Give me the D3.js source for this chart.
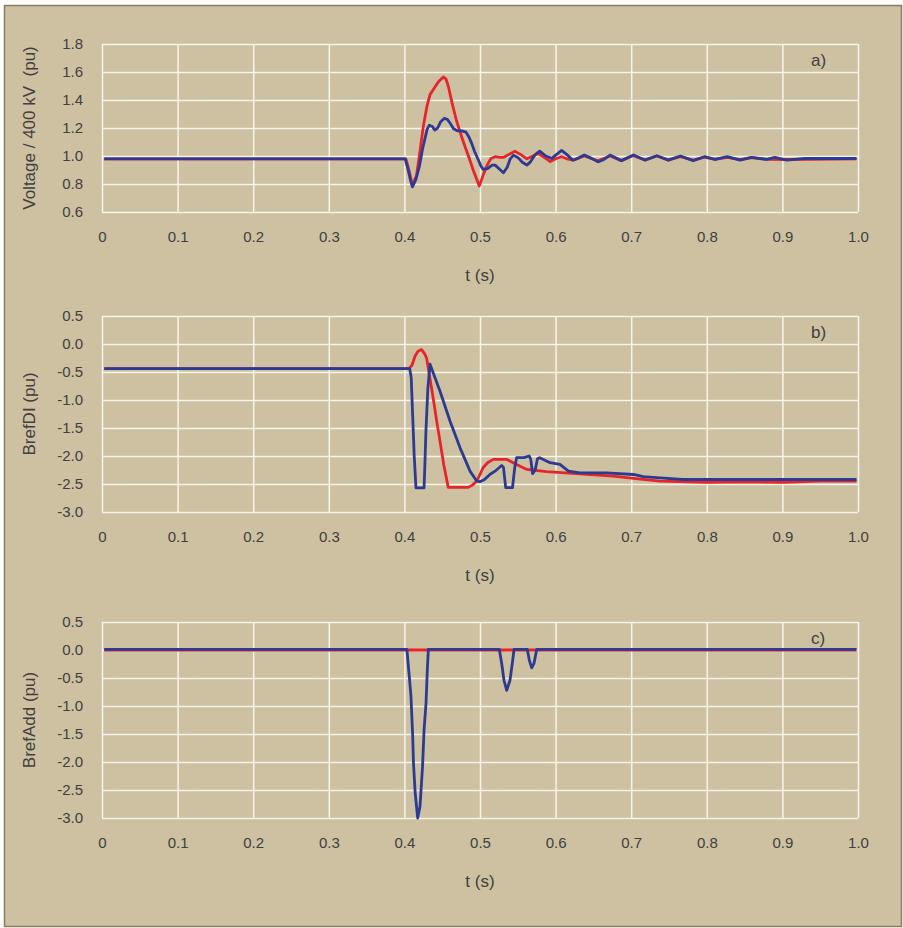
<!DOCTYPE html>
<html>
<head>
<meta charset="utf-8">
<script src="https://cdn.jsdelivr.net/npm/d3@7/dist/d3.min.js"></script>
<style>
    body { margin: 0; background: #fff; }
    text { font-family: "Liberation Sans", Arial, sans-serif; fill: #404040; white-space: pre; }
</style>
</head>
<body>
<div id="chart"></div>
<script>
/* values */
var timeTicks = [0, 0.1, 0.2, 0.3, 0.4, 0.5, 0.6, 0.7, 0.8, 0.9, 1.0];
var voltageTicks = [0.6, 0.8, 1.0, 1.2, 1.4, 1.6, 1.8];
var brefTicks = [-3.0, -2.5, -2.0, -1.5, -1.0, -0.5, 0.0, 0.5];

// a) voltage, pu  [t, value]
var voltageRed = [
    [0.003, 0.98], [0.402, 0.98], [0.406, 0.90], [0.4106, 0.79], [0.416, 0.86], [0.421, 1.05],
    [0.425, 1.21], [0.430, 1.36], [0.434, 1.44], [0.440, 1.49], [0.445, 1.53], [0.4515, 1.565],
    [0.455, 1.55], [0.458, 1.50], [0.463, 1.38], [0.469, 1.25], [0.475, 1.15], [0.480, 1.07],
    [0.486, 0.98], [0.491, 0.90], [0.499, 0.785], [0.504, 0.86], [0.509, 0.93], [0.514, 0.98],
    [0.520, 0.995], [0.526, 0.99], [0.531, 0.99], [0.538, 1.01], [0.546, 1.035], [0.554, 1.01],
    [0.562, 0.98], [0.570, 1.00], [0.577, 1.018], [0.585, 0.99], [0.593, 0.96], [0.600, 0.98],
    [0.608, 0.995], [0.615, 0.98], [0.623, 0.97], [0.638, 1.0], [0.656, 0.965], [0.672, 1.0],
    [0.687, 0.967], [0.703, 1.003], [0.718, 0.971], [0.734, 1.0], [0.749, 0.971], [0.765, 0.995],
    [0.782, 0.97], [0.797, 0.992], [0.811, 0.976], [0.827, 0.99], [0.844, 0.974], [0.859, 0.988],
    [0.879, 0.976], [0.906, 0.975], [0.998, 0.98]
];
var voltageBlue = [
    [0.003, 0.98], [0.401, 0.98], [0.404, 0.92], [0.408, 0.83], [0.4106, 0.78], [0.415, 0.83],
    [0.420, 0.93], [0.424, 1.05], [0.427, 1.12], [0.430, 1.19], [0.433, 1.22], [0.437, 1.21],
    [0.440, 1.185], [0.444, 1.2], [0.448, 1.245], [0.453, 1.27], [0.457, 1.26], [0.461, 1.23],
    [0.465, 1.195], [0.470, 1.18], [0.476, 1.18], [0.4815, 1.17], [0.485, 1.14], [0.489, 1.09],
    [0.493, 1.03], [0.498, 0.97], [0.501, 0.93], [0.504, 0.905], [0.510, 0.91], [0.516, 0.935],
    [0.520, 0.935], [0.526, 0.905], [0.531, 0.88], [0.536, 0.92], [0.540, 0.98], [0.544, 1.005],
    [0.550, 0.99], [0.556, 0.955], [0.562, 0.935], [0.567, 0.96], [0.573, 1.01], [0.579, 1.035],
    [0.587, 1.0], [0.595, 0.983], [0.601, 1.01], [0.608, 1.04], [0.615, 1.01], [0.623, 0.97],
    [0.630, 0.985], [0.638, 1.007], [0.647, 0.985], [0.656, 0.958], [0.664, 0.975], [0.672, 1.007],
    [0.687, 0.967], [0.703, 1.007], [0.718, 0.971], [0.734, 1.002], [0.749, 0.971], [0.765, 1.0],
    [0.782, 0.967], [0.797, 0.995], [0.811, 0.976], [0.827, 0.995], [0.844, 0.971], [0.859, 0.99],
    [0.879, 0.976], [0.890, 0.99], [0.906, 0.971], [0.930, 0.983], [0.998, 0.982]
];

// b) BrefDI, pu
var brefDIRed = [
    [0.003, -0.44], [0.406, -0.44], [0.410, -0.38], [0.414, -0.22], [0.418, -0.13], [0.4228, -0.10],
    [0.427, -0.18], [0.4295, -0.26], [0.433, -0.55], [0.438, -0.96], [0.443, -1.40], [0.447, -1.73],
    [0.452, -2.15], [0.458, -2.56], [0.4845, -2.56], [0.490, -2.52], [0.4956, -2.45], [0.500, -2.33],
    [0.504, -2.21], [0.510, -2.12], [0.5175, -2.06], [0.535, -2.06], [0.5484, -2.15], [0.562, -2.24],
    [0.588, -2.28], [0.632, -2.32], [0.676, -2.36], [0.703, -2.40], [0.738, -2.45], [0.80, -2.47],
    [0.85, -2.46], [0.90, -2.47], [0.95, -2.45], [0.998, -2.45]
];
var brefDIBlue = [
    [0.003, -0.44], [0.407, -0.44], [0.409, -0.6], [0.411, -1.3], [0.413, -2.0], [0.4153, -2.57],
    [0.426, -2.57], [0.427, -2.2], [0.4285, -1.55], [0.431, -0.8], [0.4339, -0.36], [0.447, -0.84],
    [0.4603, -1.375], [0.4735, -1.85], [0.4868, -2.27], [0.4956, -2.446], [0.500, -2.46], [0.506, -2.42],
    [0.513, -2.33], [0.521, -2.26], [0.5286, -2.17], [0.531, -2.2], [0.534, -2.566], [0.543, -2.566],
    [0.546, -2.2], [0.5484, -2.03], [0.558, -2.03], [0.565, -2.0], [0.567, -2.05], [0.5696, -2.315],
    [0.573, -2.25], [0.576, -2.05], [0.579, -2.03], [0.5926, -2.12], [0.6058, -2.15], [0.617, -2.27],
    [0.632, -2.30], [0.667, -2.30], [0.703, -2.33], [0.716, -2.37], [0.738, -2.39], [0.768, -2.42],
    [0.998, -2.42]
];

// c) BrefAdd, pu
var brefAddRed = [[0.003, 0.0], [0.998, 0.0]];
var brefAddBlue = [
    [0.003, 0.01], [0.4033, 0.01], [0.4065, -0.476], [0.4087, -0.83], [0.411, -1.55], [0.412, -2.02],
    [0.4143, -2.56], [0.4176, -3.0], [0.4206, -2.8], [0.424, -2.08], [0.426, -1.43], [0.4286, -0.95],
    [0.4303, -0.36], [0.4317, 0.01], [0.5256, 0.01], [0.5287, -0.24], [0.5317, -0.54], [0.5353, -0.72],
    [0.5397, -0.54], [0.5433, -0.18], [0.545, 0.01], [0.5626, 0.01], [0.5652, -0.18], [0.5684, -0.32],
    [0.5714, -0.24], [0.575, 0.01], [0.998, 0.01]
];

function Chart() {
    var self = this;
    this.width = 903;
    this.height = 928;
    this.svg = d3.select("#chart").append("svg").attr("width", this.width).attr("height", this.height);
    this.x = d3.scaleLinear().domain([0, 1]).range([102, 858]);

    // card background
    this.svg.append("rect")
        .attr("x", 4.5).attr("y", 5.5)
        .attr("width", 897).attr("height", 921)
        .attr("fill", "#cdc1a1")
        .attr("stroke", "#8a7d63")
        .attr("stroke-width", 1.5);

    this.panel = function (top, bottom, ticks, yTitle, tag, red, blue) {
        var g = self.svg.append("g");
        var y = d3.scaleLinear().domain([ticks[0], ticks[ticks.length - 1]]).range([bottom, top]);

        var yAxis = g.append("g")
            .attr("transform", "translate(102,0)")
            .call(d3.axisLeft(y).tickValues(ticks).tickSize(-756).tickPadding(19)
                .tickFormat(function (d) { return d.toFixed(1); }));
        var xAxis = g.append("g")
            .attr("transform", "translate(0," + bottom + ")")
            .call(d3.axisBottom(self.x).tickValues(timeTicks).tickSize(-(bottom - top)).tickPadding(19)
                .tickFormat(function (d) { return d === 0 ? "0" : d.toFixed(1); }));
        [yAxis, xAxis].forEach(function (a) {
            a.select(".domain").remove();
            a.selectAll("line").attr("stroke", "#f7f4ec").attr("stroke-width", 1.5);
            a.selectAll("text").attr("font-size", 15).attr("fill", "#404040")
                .attr("font-family", "Liberation Sans, Arial, sans-serif");
        });

        var line = d3.line().x(function (d) { return self.x(d[0]); }).y(function (d) { return y(d[1]); });
        g.append("path").datum(red).attr("d", line)
            .attr("fill", "none").attr("stroke", "#e8242b").attr("stroke-width", 2.8).attr("stroke-linejoin", "round");
        g.append("path").datum(blue).attr("d", line)
            .attr("fill", "none").attr("stroke", "#2c3a92").attr("stroke-width", 2.8).attr("stroke-linejoin", "round");

        g.append("text")
            .attr("x", 480).attr("y", bottom + 69)
            .attr("text-anchor", "middle").attr("font-size", 17)
            .text("t (s)");
        g.append("text")
            .attr("transform", "translate(35," + ((top + bottom) / 2) + ") rotate(-90)")
            .attr("text-anchor", "middle").attr("font-size", 17)
            .text(yTitle);
        g.append("text")
            .attr("x", 811).attr("y", top + 22)
            .attr("font-size", 17)
            .text(tag);
    };

    this.panel(44, 212, voltageTicks, "Voltage / 400 kV  (pu)", "a)", voltageRed, voltageBlue);
    this.panel(316, 512, brefTicks, "BrefDI (pu)", "b)", brefDIRed, brefDIBlue);
    this.panel(622, 818, brefTicks, "BrefAdd (pu)", "c)", brefAddRed, brefAddBlue);
}

document.addEventListener("DOMContentLoaded", function () {
    new Chart();
});
</script>
</body>
</html>
